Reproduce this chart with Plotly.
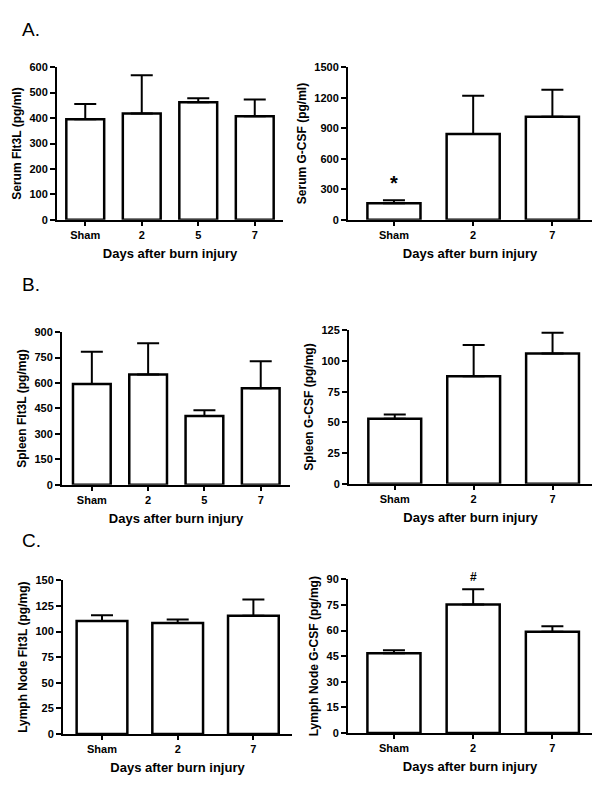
import plotly.graph_objects as go
from plotly.subplots import make_subplots

# Categories
days4 = ["Sham", "2", "5", "7"]
days3 = ["Sham", "2", "7"]

# Means and SEM
serum_flt3l = [395, 418, 462, 407]
serum_flt3l_sem = [60, 150, 16, 66]
serum_gcsf = [164, 843, 1014]
serum_gcsf_sem = [29, 377, 264]
spleen_flt3l = [595, 651, 406, 570]
spleen_flt3l_sem = [189, 183, 34, 158]
spleen_gcsf = [53, 87.5, 106]
spleen_gcsf_sem = [3.5, 25.5, 17]
lymph_flt3l = [110.3, 108.4, 115.5]
lymph_flt3l_sem = [5.7, 3.5, 15.8]
lymph_gcsf = [46.7, 75.3, 59.3]
lymph_gcsf_sem = [1.8, 8.9, 3.3]

panels = [
    # cats, mean, sem, y title, y max, dtick, x domain px, y domain px, x range
    (days4, serum_flt3l, serum_flt3l_sem, "Serum Flt3L (pg/ml)", 600, 100, (57, 283), (62, 217), [-0.5, 3.5]),
    (days3, serum_gcsf, serum_gcsf_sem, "Serum G-CSF (pg/ml)", 1500, 300, (348, 592), (62, 217), [-0.58, 2.5]),
    (days4, spleen_flt3l, spleen_flt3l_sem, "Spleen Flt3L (pg/mg)", 900, 150, (62, 290), (331, 486), [-0.53, 3.52]),
    (days3, spleen_gcsf, spleen_gcsf_sem, "Spleen G-CSF (pg/mg)", 125, 25, (349, 592), (329, 485), [-0.58, 2.5]),
    (days3, lymph_flt3l, lymph_flt3l_sem, "Lymph Node Flt3L (pg/mg)", 150, 25, (63, 292), (583, 739), [-0.515, 2.51]),
    (days3, lymph_gcsf, lymph_gcsf_sem, "Lymph Node G-CSF (pg/mg)", 90, 15, (348, 592), (582, 738), [-0.58, 2.5]),
]

W, H = 600, 800
OFF = 8  # page body margin in the browser
FONT = "Liberation Sans, Arial, sans-serif"

fig = make_subplots(rows=3, cols=2)

for k, (cats, mean, sem, ytitle, ymax, dtick, xd, yd, xr) in enumerate(panels):
    row, col = k // 2 + 1, k % 2 + 1
    fig.add_trace(
        go.Bar(
            x=cats, y=mean, width=0.67,
            marker=dict(color="white", line=dict(color="black", width=2.5)),
            error_y=dict(type="data", array=sem, arrayminus=[0] * len(sem),
                         symmetric=False, color="black", thickness=2, width=11),
            showlegend=False,
        ),
        row=row, col=col,
    )
    fig.update_xaxes(
        domain=[(xd[0] - OFF) / W, (xd[1] - OFF) / W], range=xr, type="category",
        showline=True, linecolor="black", linewidth=2,
        ticks="outside", ticklen=4, tickwidth=2, tickcolor="black",
        showgrid=False, zeroline=False,
        tickfont=dict(family=FONT, size=11, color="black", weight="bold"),
        title=dict(text="Days after burn injury", standoff=9,
                   font=dict(family=FONT, size=13, color="black", weight="bold")),
        row=row, col=col,
    )
    fig.update_yaxes(
        domain=[1 - (yd[1] - OFF) / H, 1 - (yd[0] - OFF) / H], range=[0, ymax], dtick=dtick,
        showline=True, linecolor="black", linewidth=2,
        ticks="outside", ticklen=5, tickwidth=2, tickcolor="black",
        showgrid=False, zeroline=False,
        tickfont=dict(family=FONT, size=11, color="black", weight="bold"),
        title=dict(text=ytitle, standoff=5,
                   font=dict(family=FONT, size=12, color="black", weight="bold")),
        row=row, col=col,
    )

# significance marks
fig.add_annotation(x=0, y=serum_gcsf[0] + serum_gcsf_sem[0], xref="x2", yref="y2",
                   text="*", showarrow=False, yanchor="bottom", yshift=4,
                   font=dict(family=FONT, size=20, color="black", weight="bold"))
fig.add_annotation(x=1, y=lymph_gcsf[1] + lymph_gcsf_sem[1], xref="x6", yref="y6",
                   text="#", showarrow=False, yanchor="bottom", yshift=3,
                   font=dict(family=FONT, size=12, color="black", weight="bold"))

# panel letters
for letter, py in [("A.", 24), ("B.", 283), ("C.", 543)]:
    fig.add_annotation(x=(20 - OFF) / W, y=1 - (py - OFF) / H, xref="paper", yref="paper",
                       text=letter, showarrow=False, xanchor="left", yanchor="middle",
                       font=dict(family=FONT, size=19, color="black"))

fig.update_layout(
    width=W, height=H,
    margin=dict(l=0, r=0, t=0, b=0),
    paper_bgcolor="white", plot_bgcolor="white",
)

fig.write_html("out.html")
